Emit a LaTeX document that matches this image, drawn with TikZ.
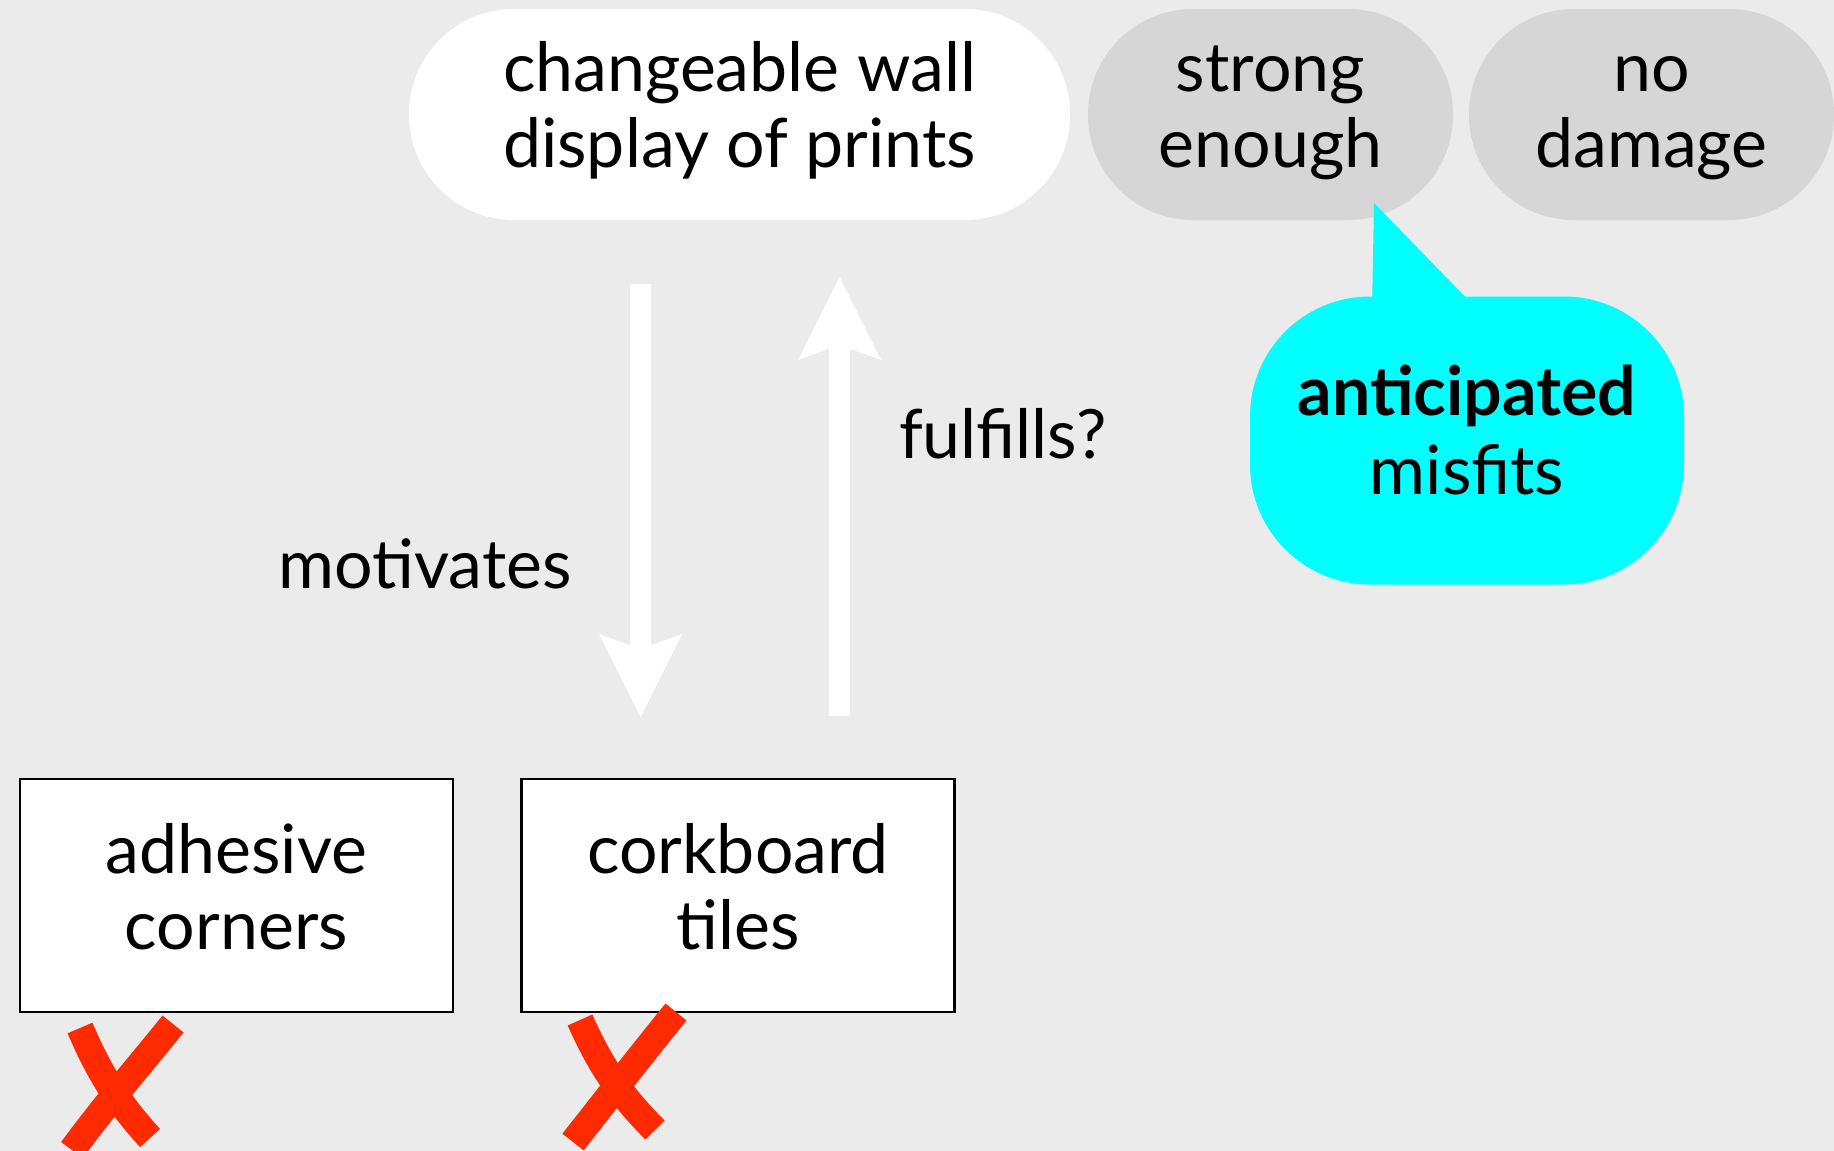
\documentclass[tikz,border=0pt]{standalone}
\usepackage{fontspec}
\setmainfont{Lato}
\usetikzlibrary{arrows.meta}
\definecolor{bg}{HTML}{EBEBEB}
\definecolor{pillgray}{HTML}{D6D6D6}
\definecolor{xred}{HTML}{FF2A00}
\definecolor{bubblecyan}{HTML}{00FFFF}
\begin{document}
\begin{tikzpicture}[x=1pt,y=-1pt,
  txt/.style={font=\fontsize{68}{76}\selectfont},
  twoline/.style={txt,align=center,text height=126pt,text depth=21pt},
  pill/.style={twoline,rectangle,rounded corners=105pt,minimum height=211pt,inner sep=0pt},
  whitepill/.style={pill,fill=white,minimum width=661pt},
  graypill/.style={pill,fill=pillgray,minimum width=365pt},
  optbox/.style={twoline,rectangle,draw=black,line width=2.5pt,fill=white,minimum width=433pt,minimum height=233pt,inner sep=0pt,text height=129pt,text depth=21pt},
  bigarrow/.style={draw=white,line width=21pt,-{Stealth[length=83pt,width=83pt,inset=15pt,line width=0pt]}},
  crossmark/.style={draw=xred,line width=27pt,line cap=butt},
  lbl/.style={txt,anchor=base,inner sep=0pt}]
\useasboundingbox (0,0) rectangle (1834,1151);
\clip (0,0) rectangle (1834,1151);
\fill[bg] (0,0) rectangle (1834,1151);

% top pills
\node[whitepill] (goal) at (739.5,114.5) {changeable wall\\display of prints};
\node[graypill] (strong) at (1270.5,114.5) {strong\\enough};
\node[graypill] (nodamage) at (1651.5,114.5) {no\\damage};

% speech bubble
\coordinate (tailL) at (1372,310);
\coordinate (tailTip) at (1374,203);
\coordinate (tailR) at (1478,310);
\fill[bubblecyan] (tailL) -- (tailTip) -- (tailR) -- cycle;
\node[twoline,font=\fontsize{68}{79}\selectfont,rectangle,rounded corners=120pt,fill=bubblecyan,minimum width=434pt,minimum height=288pt,inner sep=0pt,text height=129pt,text depth=21pt] (misfits) at (1467,440.5) {\textbf{anticipated}\\misfits};

% arrows
\coordinate (downS) at (640.5,284);
\coordinate (downE) at (640.5,717);
\coordinate (upS) at (839.5,716);
\coordinate (upE) at (839.5,277);
\draw[bigarrow] (downS) -- (downE);
\draw[bigarrow] (upS) -- (upE);
\node[lbl] (motivates) at (425,588) {motivates};
\node[lbl] (fulfills) at (1003,458) {fulfills?};

% option boxes
\node[optbox] (adhesive) at (236.5,895.5) {adhesive\\corners};
\node[optbox] (cork) at (738,895.5) {corkboard\\tiles};

% red crosses
\draw[crossmark] (80,1028) .. controls (100,1075) and (120,1105) .. (150,1138);
\draw[crossmark] (173,1024) .. controls (140,1065) and (105,1105) .. (72,1150);
\draw[crossmark] (580,1020) .. controls (600,1065) and (620,1095) .. (655,1130);
\draw[crossmark] (676,1012) .. controls (645,1050) and (610,1095) .. (573,1142);
\end{tikzpicture}
\end{document}
